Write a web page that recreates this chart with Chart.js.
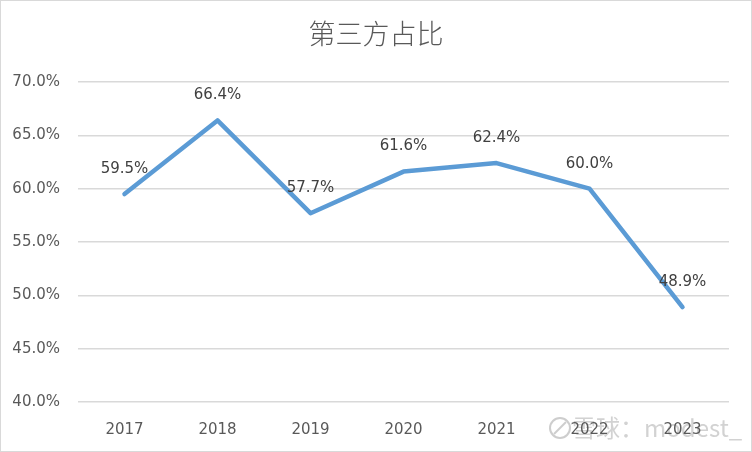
<!DOCTYPE html>
<html>
<head>
<meta charset="utf-8">
<script src="https://cdn.jsdelivr.net/npm/chart.js@4"></script>
<style>
  html, body { margin: 0; padding: 0; background: #fff; }
  #wrap { width: 752px; height: 452px; position: relative; }
</style>
</head>
<body>
<div id="wrap"><canvas id="shareChart" width="752" height="452"></canvas></div>
<script>
// chart data
const years = ['2017', '2018', '2019', '2020', '2021', '2022', '2023'];
const shareValues = [59.5, 66.4, 57.7, 61.6, 62.4, 60.0, 48.9];
const yTicks = [40, 45, 50, 55, 60, 65, 70];
const chartTitle = '第三方占比';
const watermark = '雪球：modest_';

const textColor = '#595959';
const gridColor = '#d9d9d9';
const labelFont = '15px "DejaVu Sans", sans-serif';

// watermark sits underneath everything else
const watermarkPlugin = {
    id: 'watermark',
    beforeDraw(chart) {
        const ctx = chart.ctx;
        ctx.save();
        ctx.textBaseline = 'middle';
        ctx.textAlign = 'left';
        ctx.strokeStyle = 'rgba(200,200,200,0.9)';
        ctx.lineWidth = 2;
        ctx.beginPath();
        ctx.arc(560, 428, 10, 0, Math.PI * 2);
        ctx.stroke();
        ctx.beginPath();
        ctx.moveTo(554, 434);
        ctx.lineTo(566, 422);
        ctx.stroke();
        ctx.font = '24px "Noto Sans CJK SC", sans-serif';
        ctx.fillStyle = 'rgba(205,205,205,0.9)';
        ctx.fillText(watermark, 572, 428);
        ctx.restore();
    }
};

// title, border and value labels
const decorPlugin = {
    id: 'decor',
    afterDraw(chart) {
        const ctx = chart.ctx;
        ctx.save();
        // outer frame
        ctx.strokeStyle = gridColor;
        ctx.lineWidth = 1;
        ctx.strokeRect(0.5, 0.5, chart.width - 1, chart.height - 1);

        // title
        ctx.fillStyle = textColor;
        ctx.font = '300 27px "Noto Sans CJK SC", sans-serif';
        ctx.textAlign = 'center';
        ctx.textBaseline = 'middle';
        ctx.fillText(chartTitle, chart.width / 2, 34);

        // value labels above points
        ctx.font = labelFont;
        ctx.fillStyle = '#404040';
        const meta = chart.getDatasetMeta(0);
        meta.data.forEach(function(pt, i) {
            ctx.fillText(shareValues[i].toFixed(1) + '%', pt.x, pt.y - 25);
        });
        ctx.restore();
    }
};

const ctx = document.getElementById('shareChart').getContext('2d');
new Chart(ctx, {
    type: 'line',
    data: {
        labels: years,
        datasets: [{
            data: shareValues,
            borderColor: '#5b9bd5',
            borderWidth: 4.5,
            borderCapStyle: 'round',
            borderJoinStyle: 'round',
            pointRadius: 0,
            tension: 0,
            fill: false
        }]
    },
    options: {
        responsive: false,
        animation: false,
        layout: { padding: { top: 82, right: 23, left: 0, bottom: 0 } },
        plugins: {
            legend: { display: false },
            title: { display: false },
            tooltip: { enabled: false }
        },
        scales: {
            x: {
                offset: true,
                grid: { display: false },
                border: { display: false },
                ticks: { color: textColor, font: { family: 'DejaVu Sans', size: 15 }, padding: 11 },
                afterFit(scale) { scale.height = 50; }
            },
            y: {
                min: 40,
                max: 70,
                afterBuildTicks(scale) { scale.ticks = yTicks.map(v => ({ value: v })); },
                grid: { color: gridColor, lineWidth: 1.5, drawTicks: false },
                border: { display: false },
                ticks: {
                    color: textColor,
                    font: { family: 'DejaVu Sans', size: 15 },
                    padding: 18,
                    callback: v => v.toFixed(1) + '%'
                },
                afterFit(scale) { scale.width = 78; }
            }
        }
    },
    plugins: [watermarkPlugin, decorPlugin]
});
</script>
</body>
</html>
